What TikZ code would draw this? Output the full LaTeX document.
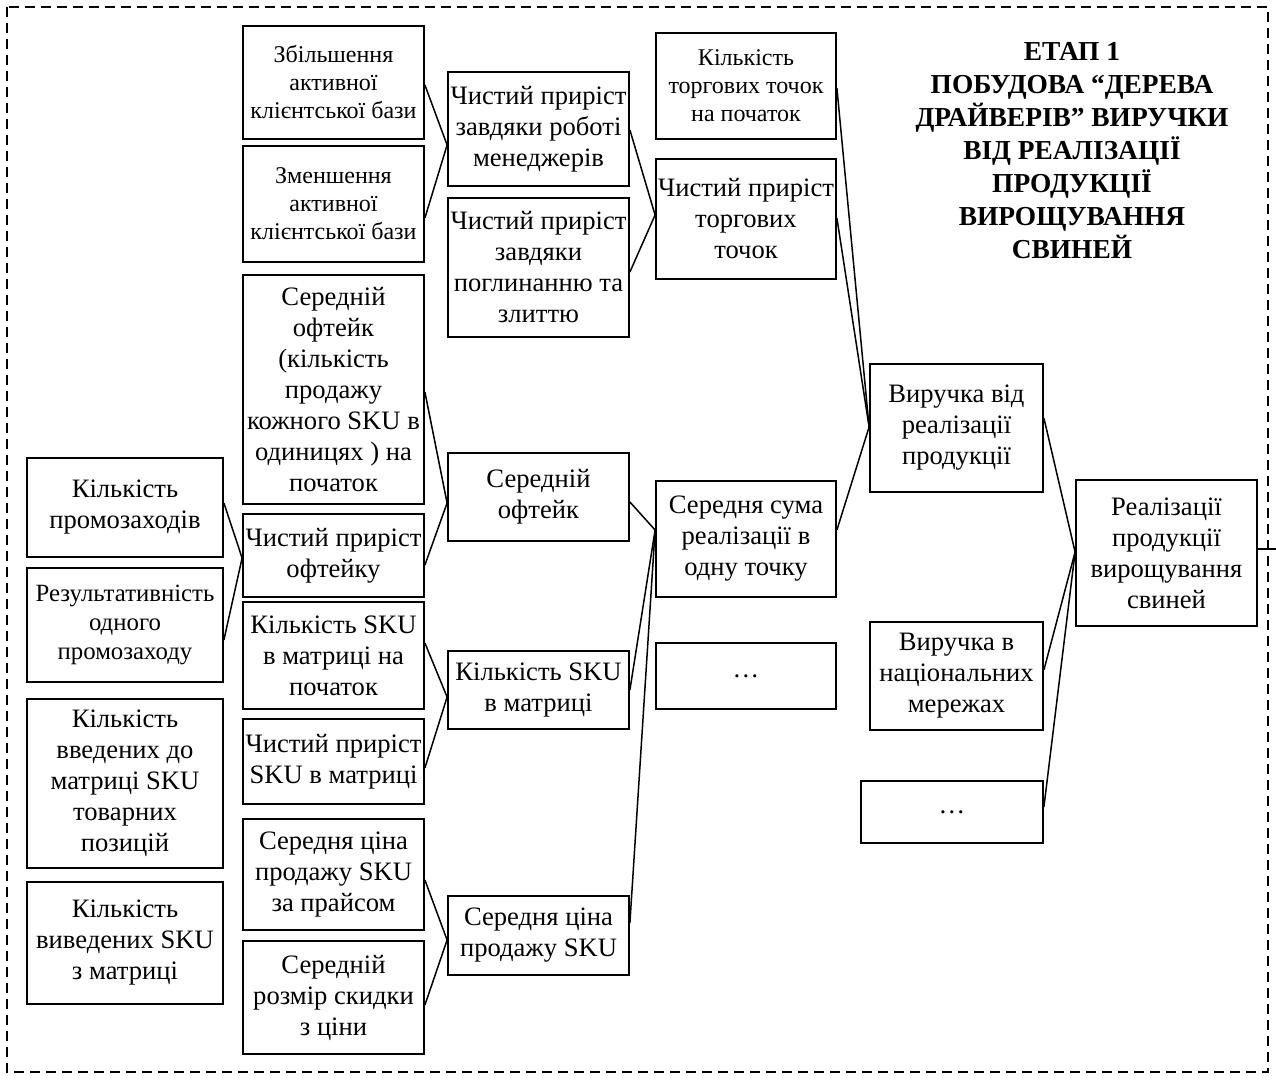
\documentclass[tikz,border=0pt]{standalone}
\usepackage{fontspec}
\setmainfont{Liberation Serif}
\newcommand\tbox[7][]{%
  \pgfmathsetmacro\tbw{(#5-#3)*0.5}%
  \pgfmathsetmacro\tbh{(#6-#4)*0.5}%
  \node[box,#1,minimum width=\tbw pt,minimum height=\tbh pt] (#2) at ({(#3+#5)/2},{(#4+#6)/2}) {#7};}
\newcommand\lnk[4]{\draw[link] (#1.east |- 0,#2) -- (#3.west |- 0,#4);}
\begin{document}
\begin{tikzpicture}[x=0.5pt,y=-0.5pt,
  box/.style={draw, line width=0.9pt, align=center, inner sep=1pt, font=\fontsize{13.3}{15.5}\selectfont},
  small/.style={font=\fontsize{12}{14}\selectfont},
  mid/.style={font=\fontsize{12.4}{14.7}\selectfont},
  link/.style={line width=0.75pt},
  frame/.style={dash pattern=on 5pt off 3pt, line width=0.9pt}]
\useasboundingbox (0,0) rectangle (1276,1080);
\draw[frame] (7,7) rectangle (1268,1072);

% column 1
\tbox{A1}{27}{458}{223}{557}{Кількість\\промозаходів}
\tbox[mid]{A2}{27}{568}{223}{682}{Результативність\\одного\\промозаходу}
\tbox{A3}{27}{699}{223}{868}{Кількість\\введених до\\матриці SKU\\товарних\\позицій}
\tbox{A4}{27}{882}{223}{1004}{Кількість\\виведених SKU\\з матриці}

% column 2
\tbox[small]{B1}{243}{26}{424}{139}{Збільшення\\активної\\клієнтської бази}
\tbox[small]{B2}{243}{146}{424}{262}{Зменшення\\активної\\клієнтської бази}
\tbox{B3}{243}{275}{424}{504}{Середній\\офтейк\\(кількість\\продажу\\кожного SKU в\\одиницях ) на\\початок}
\tbox{B4}{243}{514}{424}{597}{Чистий приріст\\офтейку}
\tbox{B5}{243}{602}{424}{709}{Кількість SKU\\в матриці на\\початок}
\tbox{B6}{243}{719}{424}{804}{Чистий приріст\\SKU в матриці}
\tbox{B7}{243}{819}{424}{930}{Середня ціна\\продажу SKU\\за прайсом}
\tbox{B8}{243}{941}{424}{1054}{Середній\\розмір скидки\\з ціни}

% column 3
\tbox{C1}{448}{72}{629}{186}{Чистий приріст\\завдяки роботі\\менеджерів}
\tbox{C2}{448}{198}{629}{337}{Чистий приріст\\завдяки\\поглинанню та\\злиттю}
\tbox{C3}{448}{453}{629}{541}{Середній\\офтейк}
\tbox{C4}{448}{651}{629}{729}{Кількість SKU\\в матриці}
\tbox{C5}{448}{896}{629}{975}{Середня ціна\\продажу SKU}

% column 4
\tbox[small]{D1}{656}{33}{836}{139}{Кількість\\торгових точок\\на початок}
\tbox{D2}{656}{159}{836}{279}{Чистий приріст\\торгових\\точок}
\tbox{D3}{656}{481}{836}{597}{Середня сума\\реалізації в\\одну точку}
\tbox{D4}{656}{643}{836}{709}{…}

% column 5
\tbox{E1}{870}{364}{1043}{492}{Виручка від\\реалізації\\продукції}
\tbox{E2}{870}{622}{1043}{730}{Виручка в\\національних\\мережах}
\tbox{E3}{861}{781}{1043}{843}{…}

% column 6
\tbox{F}{1076}{480}{1257}{626}{Реалізації\\продукції\\вирощування\\свиней}

% title
\node[align=center, font=\fontsize{13.7}{16.5}\selectfont\bfseries] (title) at (1072,151)
  {ЕТАП 1\\ПОБУДОВА “ДЕРЕВА\\ДРАЙВЕРІВ” ВИРУЧКИ\\ВІД РЕАЛІЗАЦІЇ\\ПРОДУКЦІЇ\\ВИРОЩУВАННЯ\\СВИНЕЙ};

% connectors
\lnk{B1}{85}{C1}{145}
\lnk{B2}{218}{C1}{145}
\lnk{C1}{130}{D2}{215}
\lnk{C2}{272}{D2}{215}
\lnk{D1}{88}{E1}{427}
\lnk{D2}{218}{E1}{427}
\lnk{D3}{530}{E1}{427}
\lnk{E1}{418}{F}{552}
\lnk{E2}{670}{F}{552}
\lnk{E3}{807}{F}{552}
\lnk{C3}{502}{D3}{530}
\lnk{C4}{690}{D3}{530}
\lnk{C5}{923}{D3}{530}
\lnk{B3}{392}{C3}{503}
\lnk{B4}{565}{C3}{503}
\lnk{A1}{503}{B4}{558}
\lnk{A2}{640}{B4}{558}
\lnk{B5}{643}{C4}{697}
\lnk{B6}{768}{C4}{697}
\lnk{B7}{880}{C5}{940}
\lnk{B8}{1005}{C5}{940}
\coordinate (out) at (1276,549);
\draw[line width=0.9pt] (F.east |- 0,549) -- (out);
\end{tikzpicture}
\end{document}
